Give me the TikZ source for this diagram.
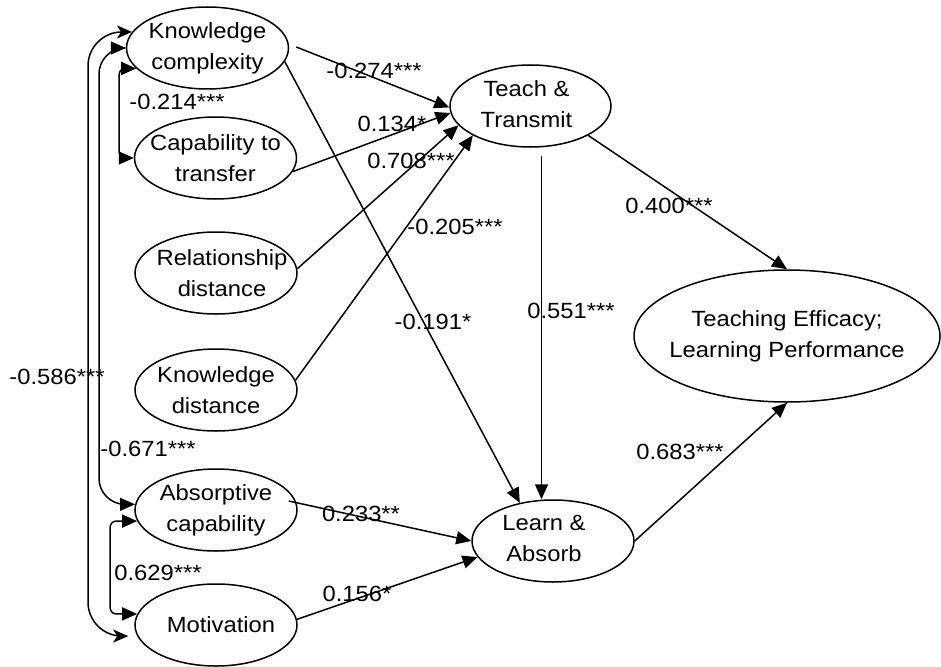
\documentclass[tikz,border=0pt]{standalone}
\usepackage{fontspec}
\setmainfont{Liberation Sans}[FakeStretch=1.08]
\usetikzlibrary{shapes.geometric,arrows.meta,calc}
\begin{document}
\begin{tikzpicture}[x=1pt,y=-1pt,
  ell/.style={draw, ellipse, line width=1.5pt, minimum width=162pt, minimum height=82pt, inner sep=0pt},
  txt/.style={align=center, font=\fontsize{22}{31}\selectfont, inner sep=0pt},
  lab/.style={font=\fontsize{22}{26}\selectfont, inner sep=0pt},
  arr/.style={line width=1.5pt, -{Triangle[length=15pt,width=13pt]}},
  darr/.style={line width=1.5pt, {Triangle[length=15pt,width=13pt]}-{Triangle[length=15pt,width=13pt]}},
  sarr/.style={line width=1.5pt, {Stealth[length=15pt,width=13pt,inset=4pt]}-{Stealth[length=15pt,width=13pt,inset=4pt]}},
]
\useasboundingbox (0,0) rectangle (941,666);

% ellipses
\node[ell, label={[txt]center:{Knowledge\\complexity}}] (kc) at (207.5,48) {};
\node[ell, label={[txt]center:{Capability to\\transfer}}] (ct) at (215.5,158) {};
\node[ell, label={[txt,xshift=6pt]center:{Relationship\\distance}}] (rd) at (216,273) {};
\node[ell, label={[txt]center:{Knowledge\\distance}}] (kd) at (216,390) {};
\node[ell, label={[txt]center:{Absorptive\\capability}}] (ac) at (216,510) {};
\node[ell, label={[txt,xshift=5pt]center:{Motivation}}] (mot) at (216,625) {};
\node[ell, minimum width=161pt, label={[txt,xshift=-4pt,yshift=2pt]center:{Teach \&\\Transmit}}] (tt) at (530.5,106) {};
\node[ell, label={[txt,xshift=-9pt,yshift=3pt]center:{Learn \&\\Absorb}}] (la) at (553,541) {};
\node[ell, minimum width=306pt, minimum height=132pt, label={[txt]center:{Teaching Efficacy;\\Learning Performance}}] (te) at (787,336) {};

% straight paths
\draw[arr] ($(kc.east)+(7,-1)$) -- (tt.181);
\draw[arr] (ct.-10) -- (tt.185);
\draw[arr] (rd.3) -- (tt.195);
\draw[arr] (kd.7) -- (tt.207);
\draw[arr] (kc.-10) -- (la.131);
\coordinate (ttb) at ($(tt.south)+(11,8)$);
\draw[arr] (ttb) -- (ttb |- la.north);
\draw[arr] (tt.-27) -- (te.north);
\draw[arr] (la.east) -- (te.south);
\draw[arr] ($(ac.east)+(-9,-9)$) -- (la.west);
\draw[arr] (mot.4) -- (la.192);

% correlations
\draw[darr, rounded corners=6pt] (kc.196) -- ++(-17,0) |- (ct.west);
\draw[darr, rounded corners=6pt] (ac.188) -- ++(-27,0) |- (mot.172);
\draw[darr, rounded corners=26pt] (kc.west) -| (99,280) |- (ac.176);
\draw[sarr, rounded corners=34pt, shorten >=9pt] (kc.168) -| (88,300) |- (mot.188);

% labels
\node[lab] (l1) at (374,71) {-0.274***};
\node[lab] (l2) at (392,124) {0.134*};
\node[lab] (l3) at (411,161) {0.708***};
\node[lab] (l4) at (455,227) {-0.205***};
\node[lab] (l5) at (433,322) {-0.191*};
\node[lab] (l6) at (571,311) {0.551***};
\node[lab] (l7) at (669,206) {0.400***};
\node[lab] (l8) at (680,452) {0.683***};
\node[lab] (l9) at (361,514) {0.233**};
\node[lab] (l10) at (357,594) {0.156*};
\node[lab] (l11) at (177,102) {-0.214***};
\node[lab] (l12) at (148,449) {-0.671***};
\node[lab] (l13) at (158,573) {0.629***};
\node[lab] (l14) at (57,377) {-0.586***};
\end{tikzpicture}
\end{document}
